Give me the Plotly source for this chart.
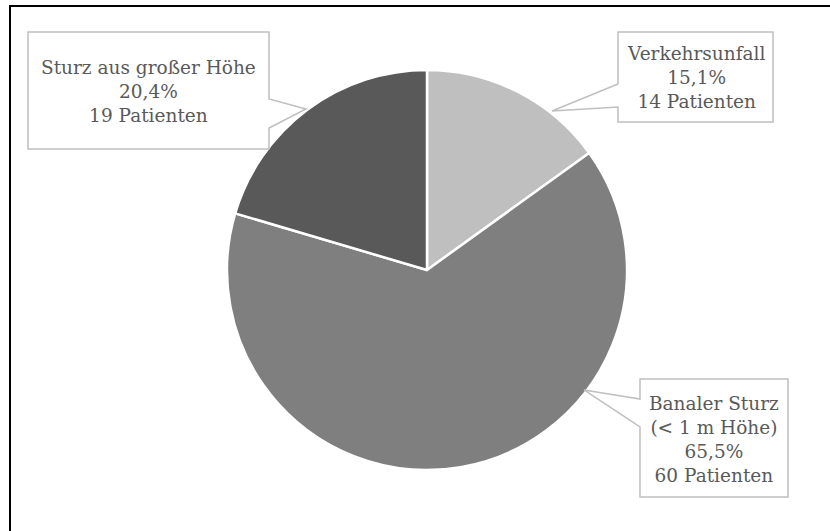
import plotly.graph_objects as go

# Unfallmechanismus der Patienten (n = 93)
categories = ["Verkehrsunfall", "Banaler Sturz<br>(< 1 m Höhe)", "Sturz aus großer Höhe"]
patients = [14, 60, 19]
percent_labels = ["15,1%", "65,5%", "20,4%"]
colors = ["#bfbfbf", "#7f7f7f", "#595959"]

W, H = 830, 531
TEXT_COLOR = "#595959"
BOX_COLOR = "#bfbfbf"
FONT = "DejaVu Serif"


def px(x, y):
    """Pixel position -> paper coordinates."""
    return x / W, 1 - y / H


# pie placement (pixels): centre and radius
cx, cy, r = 427, 270, 200

fig = go.Figure(
    go.Pie(
        values=patients,
        labels=categories,
        marker=dict(colors=colors, line=dict(color="white", width=2.5)),
        sort=False,
        direction="clockwise",
        rotation=0,
        textinfo="none",
        hoverinfo="label+value",
        showlegend=False,
        domain=dict(
            x=[(cx - r) / W, (cx + r) / W],
            y=[1 - (cy + r) / H, 1 - (cy - r) / H],
        ),
    )
)

# callout boxes: box (left, top, right, bottom), side of the pointer,
# pointer base rows on that side, pointer tip
callouts = [
    dict(box=(618, 32, 773, 122), side="left", base=(84, 107), tip=(552, 111)),
    dict(box=(640, 379, 788, 497), side="left", base=(399, 427), tip=(584, 390)),
    dict(box=(28, 32, 269, 149), side="right", base=(99, 128), tip=(306, 109)),
]

shapes = []
annotations = []
for i, c in enumerate(callouts):
    l, t, rr, b = c["box"]
    b1, b2 = c["base"]
    tx, ty = c["tip"]
    if c["side"] == "left":
        pts = [(l, t), (rr, t), (rr, b), (l, b), (l, b2), (tx, ty), (l, b1)]
    else:
        pts = [(l, t), (rr, t), (rr, b1), (tx, ty), (rr, b2), (rr, b), (l, b)]
    path = "M " + " L ".join(f"{px(x, y)[0]:.5f},{px(x, y)[1]:.5f}" for x, y in pts) + " Z"
    shapes.append(dict(type="path", xref="paper", yref="paper", path=path,
                       fillcolor="white", line=dict(color=BOX_COLOR, width=1.5),
                       layer="above"))
    ax, ay = px((l + rr) / 2, (t + b) / 2 + 1)
    text = f"{categories[i]}<br>{percent_labels[i]}<br>{patients[i]} Patienten"
    annotations.append(dict(x=ax, y=ay, xref="paper", yref="paper", text=text,
                            showarrow=False, xanchor="center", yanchor="middle",
                            font=dict(family=FONT, size=18.5, color=TEXT_COLOR),
                            align="center"))

# chart frame
x0, y0 = px(10, 6)
x1, y1 = px(840, 540)
shapes.append(dict(type="rect", xref="paper", yref="paper", x0=x0, y0=y1, x1=x1, y1=y0,
                   line=dict(color="black", width=2), fillcolor="rgba(0,0,0,0)",
                   layer="above"))

fig.update_layout(
    width=W, height=H,
    margin=dict(l=0, r=0, t=0, b=0),
    paper_bgcolor="white",
    plot_bgcolor="white",
    shapes=shapes,
    annotations=annotations,
)

fig.write_html("out.html")
